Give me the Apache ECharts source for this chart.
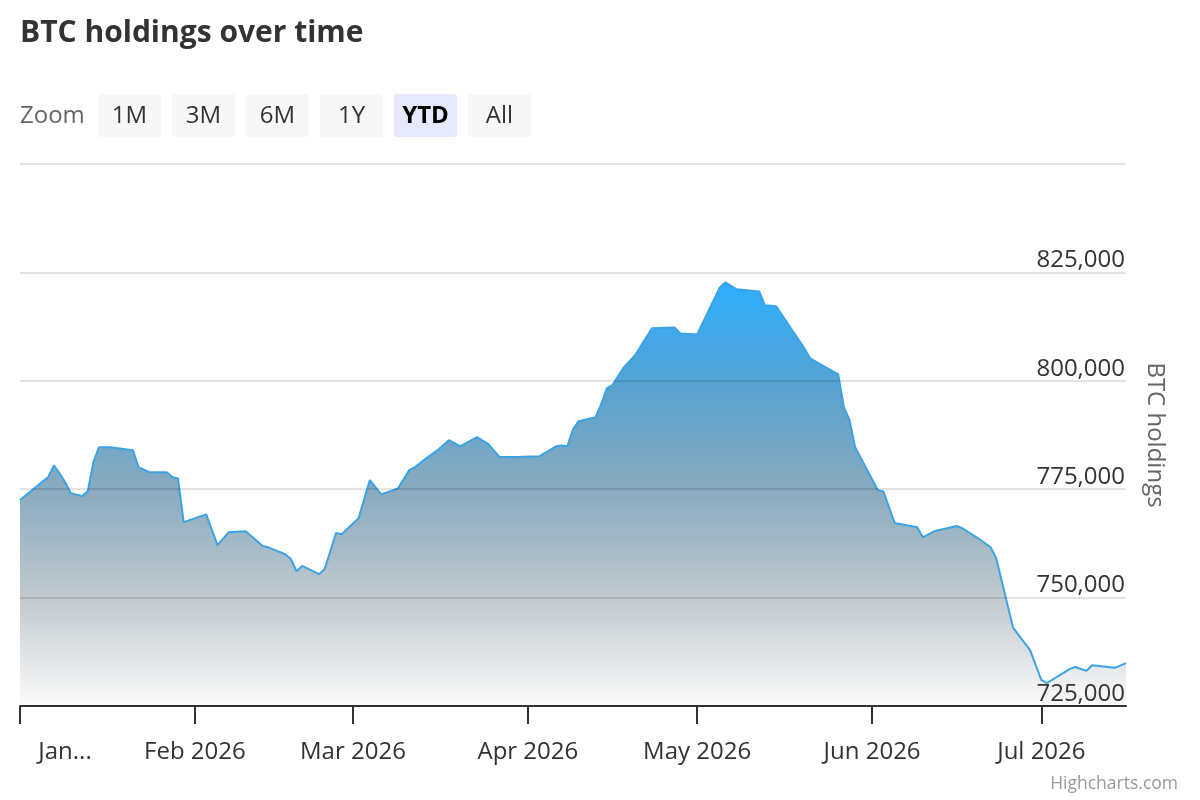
<!DOCTYPE html>
<html>
<head>
<meta charset="utf-8">
<script src="https://cdn.jsdelivr.net/npm/echarts@6/dist/echarts.min.js"></script>
<style>
html,body{margin:0;padding:0;background:#fff;}
#chart{width:1200px;height:800px;}
</style>
</head>
<body>
<div id="chart"></div>
<script>
// ---- data ----
const dates = [
 '2026-01-01','2026-01-06','2026-01-07','2026-01-08','2026-01-09','2026-01-10','2026-01-12','2026-01-13','2026-01-14','2026-01-15',
 '2026-01-17','2026-01-21','2026-01-22','2026-01-24','2026-01-27','2026-01-28','2026-01-29','2026-01-30','2026-02-03','2026-02-04',
 '2026-02-05','2026-02-07','2026-02-10','2026-02-13','2026-02-14','2026-02-17','2026-02-18','2026-02-19','2026-02-20','2026-02-23',
 '2026-02-24','2026-02-26','2026-02-27','2026-03-02','2026-03-04','2026-03-06','2026-03-09','2026-03-11','2026-03-12','2026-03-14',
 '2026-03-16','2026-03-18','2026-03-19','2026-03-20','2026-03-23','2026-03-25','2026-03-27','2026-03-30','2026-04-03','2026-04-06',
 '2026-04-07','2026-04-08','2026-04-09','2026-04-10','2026-04-13','2026-04-14','2026-04-15','2026-04-16','2026-04-18','2026-04-20',
 '2026-04-23','2026-04-27','2026-04-28','2026-05-01','2026-05-05','2026-05-06','2026-05-08','2026-05-12','2026-05-13','2026-05-15',
 '2026-05-20','2026-05-21','2026-05-26','2026-05-27','2026-05-28','2026-05-29','2026-06-02','2026-06-03','2026-06-05','2026-06-09',
 '2026-06-10','2026-06-12','2026-06-16','2026-06-17','2026-06-20','2026-06-22','2026-06-23','2026-06-26','2026-06-29','2026-07-01',
 '2026-07-02','2026-07-06','2026-07-07','2026-07-09','2026-07-10','2026-07-14','2026-07-16'
];
const holdings = [
 772500,777800,780500,778700,776600,774100,773400,774500,781200,784700,
 784700,784000,780100,778900,778900,777800,777500,767400,769200,765600,
 762100,765100,765300,761900,761600,760000,758900,756100,757300,755400,
 756600,764900,764600,768300,777100,773800,775200,779400,780100,782100,
 784000,786300,785600,784900,787000,785400,782400,782400,782600,784900,
 785100,784900,788800,790700,791600,794600,798300,799000,803100,805900,
 812100,812300,810900,810700,821500,822700,821100,820600,817400,817200,
 807500,805200,801500,793900,790900,784700,774800,774500,767200,766200,
 763900,765300,766500,766000,763500,761600,759100,743000,737900,731000,
 730300,733500,734000,733100,734400,733800,734900
];
const yTicks = [725000, 750000, 775000, 800000, 825000, 850000];
const zoomButtons = ['1M','3M','6M','1Y','YTD','All'];
const selectedButton = 'YTD';
const monthNames = ['Jan','Feb','Mar','Apr','May','Jun','Jul','Aug','Sep','Oct','Nov','Dec'];

// ---- build daily category axis ----
const startDay = '2026-01-01', endDay = '2026-07-16';
const days = [];
for (let t = Date.parse(startDay + 'T00:00:00Z'); t <= Date.parse(endDay + 'T00:00:00Z'); t += 86400000) {
  days.push(new Date(t).toISOString().slice(0, 10));
}
const lookup = {};
dates.forEach((d, i) => { lookup[d] = holdings[i]; });
const seriesData = days.map(d => (d in lookup ? lookup[d] : null));

const FONT = '"Open Sans", "Noto Sans", sans-serif';
const isMonthStart = (idx, val) => val.slice(8) === '01';

// ---- graphics: title, range selector, credits ----
const graphics = [
  { type: 'text', x: 20, y: 33, style: { text: 'BTC holdings over time', font: 'bold 30px ' + FONT, fill: '#333', verticalAlign: 'middle' } },
  { type: 'text', x: 20, y: 116, style: { text: 'Zoom', font: '24px ' + FONT, fill: '#666', verticalAlign: 'middle', align: 'left' } }
];
zoomButtons.forEach((b, i) => {
  const x0 = 98 + i * 74;
  const sel = b === selectedButton;
  graphics.push({ type: 'rect', shape: { x: x0, y: 94, width: 63, height: 43, r: 3 }, style: { fill: sel ? '#e6e9fb' : '#f7f7f7' } });
  graphics.push({ type: 'text', x: x0 + 31.5, y: 116, style: { text: b, font: (sel ? 'bold ' : '') + '24px ' + FONT, fill: sel ? '#000' : '#333', align: 'center', verticalAlign: 'middle' } });
});
graphics.push({ type: 'text', x: 1178, y: 784, style: { text: 'Highcharts.com', font: '17.5px ' + FONT, fill: '#999', align: 'right', verticalAlign: 'middle' } });

const chart = echarts.init(document.getElementById('chart'), null, { renderer: 'canvas' });
chart.setOption({
  animation: false,
  backgroundColor: '#fff',
  graphic: graphics,
  grid: { left: 20, right: 74, top: 164, bottom: 94, containLabel: false, outerBoundsMode: 'none' },
  xAxis: {
    type: 'category',
    data: days,
    boundaryGap: false,
    z: 5,
    axisLine: { show: true, lineStyle: { color: '#333', width: 2 } },
    axisTick: { show: true, interval: isMonthStart, length: 18, lineStyle: { color: '#333', width: 2 } },
    axisLabel: {
      interval: isMonthStart,
      margin: 34,
      fontSize: 24,
      fontFamily: FONT,
      color: '#333',
      formatter: function (val) {
        const m = monthNames[parseInt(val.slice(5, 7), 10) - 1];
        if (val === startDay) return '{j|' + m + '...}';
        return m + ' ' + val.slice(0, 4);
      },
      rich: { j: { fontSize: 24, fontFamily: FONT, color: '#333', padding: [0, 0, 0, 90] } }
    },
    splitLine: { show: false }
  },
  yAxis: {
    type: 'value',
    position: 'right',
    min: yTicks[0],
    max: yTicks[yTicks.length - 1],
    interval: yTicks[1] - yTicks[0],
    z: 5,
    name: 'BTC holdings',
    nameLocation: 'middle',
    nameRotate: -90,
    nameGap: 17,
    nameTextStyle: { fontSize: 24, fontFamily: FONT, color: '#666' },
    axisLine: { show: false },
    axisTick: { show: false },
    axisLabel: {
      inside: true,
      showMaxLabel: false,
      margin: 1,
      fontSize: 24,
      fontFamily: FONT,
      color: '#333',
      verticalAlign: 'bottom',
      formatter: v => v.toLocaleString('en-US')
    },
    splitLine: { show: true, lineStyle: { color: 'rgba(0,0,0,0.11)', width: 2 } }
  },
  series: [{
    type: 'line',
    data: seriesData,
    connectNulls: true,
    showSymbol: false,
    symbol: 'none',
    lineStyle: { color: '#3ba3e3', width: 2 },
    areaStyle: {
      color: new echarts.graphic.LinearGradient(0, 0, 0, 1, [
        { offset: 0, color: 'rgb(44,175,254)' },
        { offset: 0.25, color: 'rgb(88,162,207)' },
        { offset: 0.5, color: 'rgb(139,171,191)' },
        { offset: 0.75, color: 'rgb(194,202,207)' },
        { offset: 1, color: 'rgb(250,250,250)' }
      ]),
      opacity: 1
    }
  }]
});
</script>
</body>
</html>
